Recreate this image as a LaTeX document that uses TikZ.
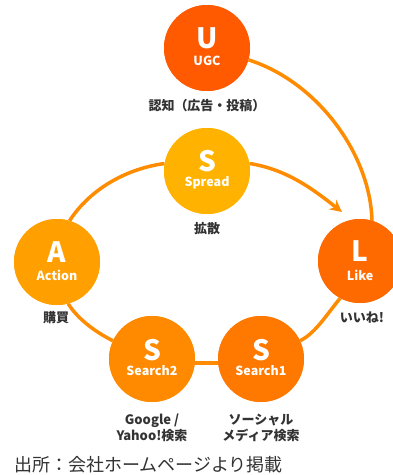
\documentclass[tikz,border=0pt]{standalone}
\usepackage{fontspec}
\newfontfamily\jp{Noto Sans CJK JP}
\setmainfont{Noto Sans CJK JP}
\usetikzlibrary{arrows.meta}
\definecolor{cU}{HTML}{FF5A00}
\definecolor{cSp}{HTML}{FFB300}
\definecolor{cA}{HTML}{FF9F00}
\definecolor{cL}{HTML}{FF6A00}
\definecolor{cS2}{HTML}{FF8A00}
\definecolor{cS1}{HTML}{FF7800}
\definecolor{cLine}{HTML}{FF8C00}
\definecolor{txt}{HTML}{333333}
\begin{document}
\begin{tikzpicture}[x=1pt,y=-1pt,
  ball/.style={circle,minimum size=86pt,inner sep=0pt,fill=#1},
  big/.style={text=white,font=\jp\bfseries\fontsize{28}{28}\selectfont,inner sep=0pt},
  word/.style={text=white,font=\jp\bfseries\fontsize{12.5}{14}\selectfont,inner sep=0pt},
  lab/.style={text=txt,font=\jp\bfseries\fontsize{13}{15}\selectfont,inner sep=0pt,align=center},
  conn/.style={draw=cLine,line width=3.5pt}]
\useasboundingbox[fill=white] (0,0) rectangle (392,475);
% circles (positions)
\node[ball=cU] (U) at (207,48) {};
\node[ball=cSp] (Sp) at (207,171) {};
\node[ball=cA] (A) at (57,262) {};
\node[ball=cL,minimum size=84pt] (L) at (360,261) {};
\node[ball=cS2] (S2) at (152,359) {};
\node[ball=cS1] (S1) at (261,359) {};
\coordinate (Lin) at (372,228);
% connectors
\draw[conn] (U.-16) .. controls +(70,22) and +(2,-70) .. (Lin);
\draw[conn,-{Stealth[length=12pt,width=12pt]}] (Sp.10) .. controls +(38,6) and +(-28,-22) .. ([shift={(-18,-49)}]L.center);
\draw[conn] (Sp.170) .. controls +(-43,6) and +(18,-28) .. (A.73);
\draw[conn] (A.-75) .. controls +(10,16) and +(-16,-8) .. (S2.155);
\draw[conn] ([yshift=-4pt]S2.center) -- ([yshift=-4pt]S1.center);
\draw[conn] (S1.25) .. controls +(16,-8) and +(-12,14) .. (L.-118);
% circles on top
\node[ball=cU] (U2) at (U) {};
\node[ball=cSp] (Sp2) at (Sp) {};
\node[ball=cA] (A2) at (A) {};
\node[ball=cL,minimum size=84pt] (L2) at (L) {};
\node[ball=cS2] (S22) at (S2) {};
\node[ball=cS1] (S12) at (S1) {};
% letters
\node[big] (tU) at (207,38) {U};
\node[word] (wU) at (207,61) {UGC};
\node[big] (tSp) at (207,161) {S};
\node[word] (wSp) at (207,183) {Spread};
\node[big] (tA) at (57,252) {A};
\node[word] (wA) at (57,275) {Action};
\node[big] (tL) at (360,251) {L};
\node[word] (wL) at (360,275) {Like};
\node[big] (tS2) at (152,350) {S};
\node[word] (wS2) at (152,371) {Search2};
\node[big] (tS1) at (261,350) {S};
\node[word] (wS1) at (261,371) {Search1};
% labels
\node[lab] (lU) at (207,106) {認知（広告・投稿）};
\node[lab] (lSp) at (207,229) {拡散};
\node[lab] (lA) at (56,318) {購買};
\node[lab] (lL) at (362,318) {いいね!};
\node[lab] (lS2) at (152,428) {Google /\\[1pt]Yahoo!検索};
\node[lab] (lS1) at (261,428) {ソーシャル\\[1pt]メディア検索};
\node[text=txt,font=\jp\fontsize{18}{20}\selectfont,inner sep=0pt,anchor=west] (src) at (14,465) {出所：会社ホームページより掲載};
\end{tikzpicture}
\end{document}
